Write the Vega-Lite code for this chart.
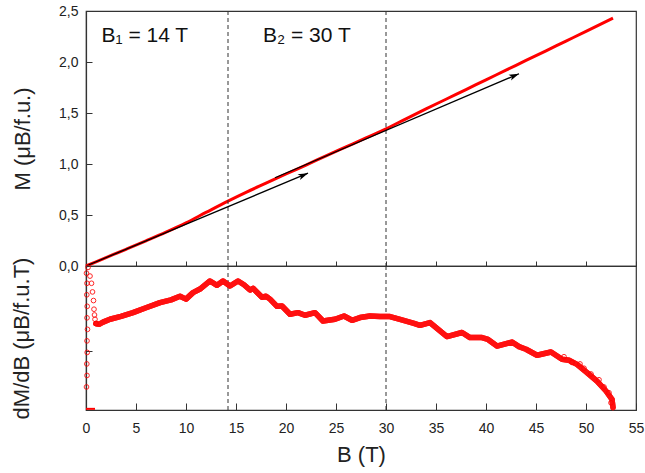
{
  "$schema": "https://vega.github.io/schema/vega-lite/v6.json",
  "padding": {"left": 9, "top": 3, "right": 4, "bottom": 5},
  "background": "white",
  "bounds": "flush",
  "config": {
    "font": "Liberation Sans",
    "view": {"stroke": "#333333", "strokeWidth": 1.2},
    "axis": {
      "domainColor": "#333333", "domainWidth": 1.2, "tickColor": "#333333", "tickWidth": 1,
      "labelColor": "#222222", "titleColor": "#222222",
      "labelFont": "Liberation Sans", "titleFont": "Liberation Sans",
      "labelFontSize": 14, "titleFontSize": 22, "titleFontWeight": "normal",
      "grid": false, "labelFlush": false, "labelOverlap": false
    }
  },
  "datasets": {
    "mred": [
      {"B": 0, "M": 0}, {"B": 2, "M": 0.082}, {"B": 4, "M": 0.164}, {"B": 6, "M": 0.247},
      {"B": 8, "M": 0.332}, {"B": 10, "M": 0.423}, {"B": 12, "M": 0.525}, {"B": 14.2, "M": 0.636},
      {"B": 16, "M": 0.722}, {"B": 18, "M": 0.812}, {"B": 20, "M": 0.902}, {"B": 22, "M": 0.99},
      {"B": 24, "M": 1.08}, {"B": 26, "M": 1.168}, {"B": 28, "M": 1.256}, {"B": 30, "M": 1.345},
      {"B": 32, "M": 1.443}, {"B": 34, "M": 1.54}, {"B": 36, "M": 1.635}, {"B": 38, "M": 1.73},
      {"B": 40, "M": 1.825}, {"B": 42, "M": 1.92}, {"B": 44, "M": 2.015}, {"B": 46, "M": 2.11},
      {"B": 48, "M": 2.205}, {"B": 50, "M": 2.3}, {"B": 52.7, "M": 2.43}
    ],
    "mt1": [{"B": 0, "M": 0}, {"B": 22.2, "M": 0.91}],
    "mt2": [{"B": 18.9, "M": 0.865}, {"B": 43.3, "M": 1.885}],
    "tips": [{"B": 22.2, "M": 0.91}, {"B": 43.3, "M": 1.885}],
    "rules": [{"B": 14.2}, {"B": 30}],
    "ann": [{"B": 1.55, "M": 2.2, "t": "B₁ = 14 T"}, {"B": 17.7, "M": 2.2, "t": "B₂ = 30 T"}],
    "dm": [
      {"B": 1.0, "v": 0.6}, {"B": 1.3, "v": 0.595}, {"B": 1.7, "v": 0.61}, {"B": 2.4, "v": 0.63},
      {"B": 3.5, "v": 0.65}, {"B": 4.7, "v": 0.676}, {"B": 6.0, "v": 0.71}, {"B": 7.4, "v": 0.746},
      {"B": 8.5, "v": 0.765}, {"B": 9.4, "v": 0.79}, {"B": 10.0, "v": 0.77}, {"B": 10.7, "v": 0.815},
      {"B": 11.4, "v": 0.84}, {"B": 12.4, "v": 0.896}, {"B": 13.1, "v": 0.866}, {"B": 13.7, "v": 0.896},
      {"B": 14.4, "v": 0.861}, {"B": 15.2, "v": 0.896}, {"B": 15.8, "v": 0.87}, {"B": 16.4, "v": 0.833},
      {"B": 16.7, "v": 0.845}, {"B": 17.6, "v": 0.783}, {"B": 18.0, "v": 0.79}, {"B": 18.4, "v": 0.77},
      {"B": 19.1, "v": 0.72}, {"B": 19.6, "v": 0.722}, {"B": 20.4, "v": 0.665}, {"B": 21.2, "v": 0.676},
      {"B": 21.9, "v": 0.658}, {"B": 22.9, "v": 0.676}, {"B": 23.7, "v": 0.618}, {"B": 24.9, "v": 0.63},
      {"B": 25.8, "v": 0.653}, {"B": 26.6, "v": 0.623}, {"B": 27.4, "v": 0.642}, {"B": 28.4, "v": 0.653},
      {"B": 29.4, "v": 0.649}, {"B": 30.4, "v": 0.649}, {"B": 31.4, "v": 0.63}, {"B": 32.8, "v": 0.602},
      {"B": 33.4, "v": 0.588}, {"B": 34.4, "v": 0.607}, {"B": 35.4, "v": 0.549}, {"B": 36.1, "v": 0.51},
      {"B": 37.6, "v": 0.538}, {"B": 38.4, "v": 0.503}, {"B": 39.6, "v": 0.503}, {"B": 40.2, "v": 0.49},
      {"B": 41.1, "v": 0.444}, {"B": 42.6, "v": 0.472}, {"B": 43.3, "v": 0.44}, {"B": 44.0, "v": 0.422},
      {"B": 45.1, "v": 0.38}, {"B": 46.5, "v": 0.403}, {"B": 47.6, "v": 0.352}, {"B": 48.3, "v": 0.345},
      {"B": 49.1, "v": 0.317}, {"B": 50.1, "v": 0.26}, {"B": 51.1, "v": 0.2}, {"B": 52.0, "v": 0.132},
      {"B": 52.6, "v": 0.074}, {"B": 52.7, "v": 0.017}
    ],
    "circ": [
      {"B": 0.2, "v": 0.99}, {"B": 0.4, "v": 0.93}, {"B": 0.55, "v": 0.88}, {"B": 0.65, "v": 0.82},
      {"B": 0.75, "v": 0.76}, {"B": 0.8, "v": 0.7}, {"B": 0.85, "v": 0.66}, {"B": 0.9, "v": 0.63},
      {"B": 1.0, "v": 0.6}, {"B": 0.05, "v": 0.95}, {"B": 0.1, "v": 0.88}, {"B": 0.08, "v": 0.8},
      {"B": 0.12, "v": 0.72}, {"B": 0.1, "v": 0.64}, {"B": 0.15, "v": 0.56}, {"B": 0.1, "v": 0.48},
      {"B": 0.12, "v": 0.4}, {"B": 0.08, "v": 0.32}, {"B": 0.1, "v": 0.24}, {"B": 0.05, "v": 0.16},
      {"B": 47.8, "v": 0.37}, {"B": 48.6, "v": 0.33}, {"B": 49.4, "v": 0.32}, {"B": 49.8, "v": 0.29},
      {"B": 50.5, "v": 0.25}, {"B": 51.3, "v": 0.21}, {"B": 51.8, "v": 0.16}, {"B": 52.3, "v": 0.12},
      {"B": 52.5, "v": 0.05}
    ],
    "base": [{"B": 0, "v": 0.008}, {"B": 0.9, "v": 0.008}]
  },
  "spacing": 0,
  "vconcat": [
    {
      "width": 550,
      "height": 255,
      "layer": [
        {
          "data": {"name": "mred"},
          "mark": {"type": "line", "color": "#ff0000", "strokeWidth": 3, "interpolate": "monotone"},
          "encoding": {
            "x": {
              "field": "B", "type": "quantitative",
              "scale": {"domain": [0, 55], "nice": false, "zero": false},
              "axis": {
                "title": null, "labels": false,
                "values": [0, 5, 10, 15, 20, 25, 30, 35, 40, 45, 50, 55],
                "tickSize": -5
              }
            },
            "y": {
              "field": "M", "type": "quantitative",
              "scale": {"domain": [0, 2.5], "nice": false, "zero": false},
              "axis": {
                "title": "M (μB/f.u.)", "titlePadding": 24,
                "values": [0, 0.25, 0.5, 0.75, 1, 1.25, 1.5, 1.75, 2, 2.25, 2.5],
                "tickSize": {"condition": {"test": "abs(datum.value*2-round(datum.value*2))<0.01", "value": -6}, "value": -4},
                "labelPadding": 14,
                "labelExpr": "abs(datum.value*2-round(datum.value*2))<0.01 ? replace(format(datum.value,'.1f'),'.',',') : ''"
              }
            }
          }
        },
        {
          "data": {"name": "rules"},
          "mark": {"type": "rule", "color": "#333333", "strokeWidth": 1, "strokeDash": [4, 3]},
          "encoding": {"x": {"field": "B", "type": "quantitative"}}
        },
        {
          "data": {"name": "mt1"},
          "mark": {"type": "line", "color": "#000000", "strokeWidth": 1.3},
          "encoding": {"x": {"field": "B", "type": "quantitative"}, "y": {"field": "M", "type": "quantitative"}}
        },
        {
          "data": {"name": "mt2"},
          "mark": {"type": "line", "color": "#000000", "strokeWidth": 1.3},
          "encoding": {"x": {"field": "B", "type": "quantitative"}, "y": {"field": "M", "type": "quantitative"}}
        },
        {
          "data": {"name": "tips"},
          "mark": {"type": "point", "shape": "M0,0L-1,-0.32L-0.75,0L-1,0.32Z", "filled": true, "color": "#000000", "size": 400, "angle": -23, "opacity": 1},
          "encoding": {"x": {"field": "B", "type": "quantitative"}, "y": {"field": "M", "type": "quantitative"}}
        },
        {
          "data": {"name": "ann"},
          "mark": {"type": "text", "align": "left", "baseline": "alphabetic", "fontSize": 21, "font": "Liberation Sans", "color": "#111111"},
          "encoding": {"x": {"field": "B", "type": "quantitative"}, "y": {"field": "M", "type": "quantitative"}, "text": {"field": "t"}}
        }
      ]
    },
    {
      "width": 550,
      "height": 144,
      "layer": [
        {
          "data": {"name": "dm"},
          "mark": {"type": "line", "color": "#ff1010", "strokeWidth": 5.5, "strokeCap": "round", "strokeJoin": "round"},
          "encoding": {
            "x": {
              "field": "B", "type": "quantitative",
              "scale": {"domain": [0, 55], "nice": false, "zero": false},
              "axis": {
                "title": "B (T)", "titlePadding": 9,
                "values": [0, 2.5, 5, 7.5, 10, 12.5, 15, 17.5, 20, 22.5, 25, 27.5, 30, 32.5, 35, 37.5, 40, 42.5, 45, 47.5, 50, 52.5, 55],
                "tickSize": {"condition": {"test": "abs(datum.value/5-round(datum.value/5))<0.01", "value": -7}, "value": -4},
                "labelPadding": 18,
                "labelExpr": "abs(datum.value/5-round(datum.value/5))<0.01 ? datum.label : ''"
              }
            },
            "y": {
              "field": "v", "type": "quantitative",
              "scale": {"domain": [0, 1], "nice": false, "zero": false},
              "axis": {
                "title": "dM/dB (μB/f.u.T)", "titlePadding": 52,
                "values": [0.41], "labels": false, "tickSize": -6
              }
            }
          }
        },
        {
          "data": {"name": "rules"},
          "mark": {"type": "rule", "color": "#333333", "strokeWidth": 1, "strokeDash": [4, 3]},
          "encoding": {"x": {"field": "B", "type": "quantitative"}}
        },
        {
          "data": {"name": "dm"},
          "mark": {"type": "line", "color": "#ff1010", "strokeWidth": 5.5, "strokeCap": "round", "strokeJoin": "round"},
          "encoding": {"x": {"field": "B", "type": "quantitative"}, "y": {"field": "v", "type": "quantitative"}}
        },
        {
          "data": {"name": "circ"},
          "mark": {"type": "point", "shape": "circle", "filled": false, "color": "#ff0000", "strokeWidth": 1, "size": 22, "opacity": 0.85},
          "encoding": {"x": {"field": "B", "type": "quantitative"}, "y": {"field": "v", "type": "quantitative"}}
        },
        {
          "data": {"name": "base"},
          "mark": {"type": "line", "color": "#ff0000", "strokeWidth": 2},
          "encoding": {"x": {"field": "B", "type": "quantitative"}, "y": {"field": "v", "type": "quantitative"}}
        }
      ]
    }
  ]
}
